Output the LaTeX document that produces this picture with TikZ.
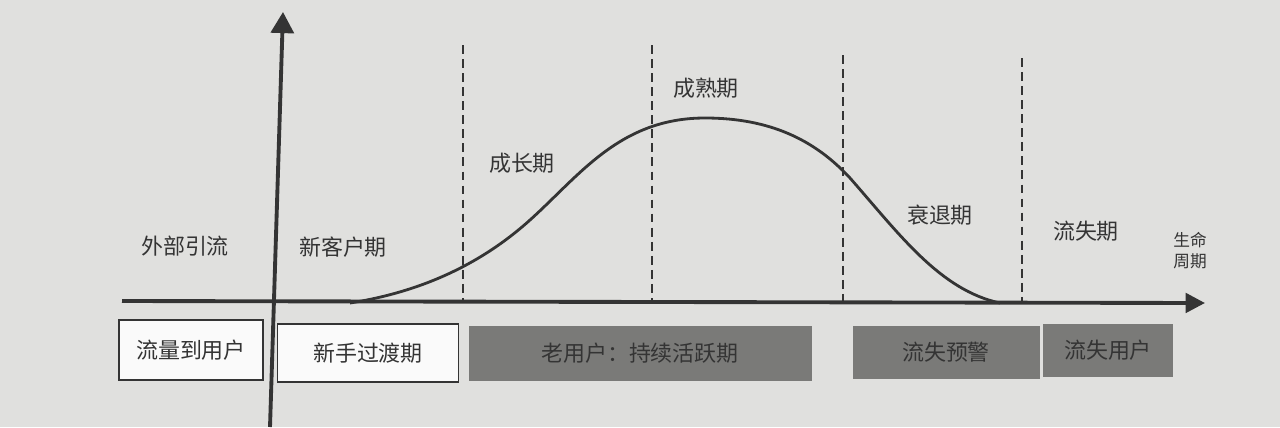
\documentclass[tikz,border=0pt]{standalone}
\usepackage{fontspec}
\newfontfamily\cjk{Noto Sans CJK SC}
\usetikzlibrary{arrows.meta}
\definecolor{paper}{RGB}{224,224,222}
\definecolor{ink}{RGB}{52,52,52}
\definecolor{shade}{RGB}{122,122,120}
\begin{document}
\begin{tikzpicture}[x=0.02cm,y=-0.02cm,
    lbl/.style={font=\cjk\fontsize{12.5}{15}\selectfont, text=ink},
    plainbox/.style={lbl, draw=ink, line width=1.1pt, fill=white!85!paper, inner sep=0pt},
    darkbox/.style={lbl, fill=shade, inner sep=0pt},
    axis/.style={draw=ink, line width=2.2pt},
    border/.style={ink, line width=1.1pt, dash pattern=on 5pt off 3pt}]

    \useasboundingbox[fill=paper] (0,0) rectangle (1280,427);

    % axes
    \coordinate (o) at (122,301);
    \coordinate (xend) at (1205,303);
    \coordinate (ybot) at (270,427);
    \coordinate (ytop) at (283,12);
    \draw[axis, -{Triangle[width=11pt,length=11pt]}] (o) -- (xend);
    \draw[axis, -{Triangle[width=13pt,length=12pt]}] (ybot) -- (ytop);

    % phase borders
    \draw[border] (463,45) -- (463,303);
    \draw[border] (652,45) -- (652,303);
    \draw[border] (843,55) -- (843,303);
    \draw[border] (1022,58) -- (1022,303);

    % life cycle curve
    \draw[ink, line width=1.6pt] (350,303) .. controls (420,292) and (480,265) .. (530,220)
        .. controls (580,175) and (620,118) .. (705,118)
        .. controls (770,118) and (815,140) .. (850,178)
        .. controls (900,235) and (940,290) .. (1000,303);

    % phase names
    \node[lbl] (wai) at (185,246) {外部引流};
    \node[lbl] (xin) at (343,247) {新客户期};
    \node[lbl] (cz) at (522,163) {成长期};
    \node[lbl] (cs) at (706,88) {成熟期};
    \node[lbl] (sh) at (940,215) {衰退期};
    \node[lbl] (ls) at (1086,231) {流失期};
    \node[lbl, font=\cjk\fontsize{9.5}{12}\selectfont, align=center] (life) at (1190,251) {生命\\周期};

    % user stages
    \node[plainbox, minimum width=144*0.02cm, minimum height=60*0.02cm] (b1) at (191,350) {流量到用户};
    \node[plainbox, minimum width=181*0.02cm, minimum height=58*0.02cm] (b2) at (368,353) {新手过渡期};
    \node[darkbox, minimum width=343*0.02cm, minimum height=55*0.02cm] (b3) at (640,353) {老用户：持续活跃期};
    \node[darkbox, minimum width=187*0.02cm, minimum height=53*0.02cm] (b4) at (946,352) {流失预警};
    \node[darkbox, minimum width=130*0.02cm, minimum height=53*0.02cm] (b5) at (1108,350) {流失用户};

\end{tikzpicture}
\end{document}
